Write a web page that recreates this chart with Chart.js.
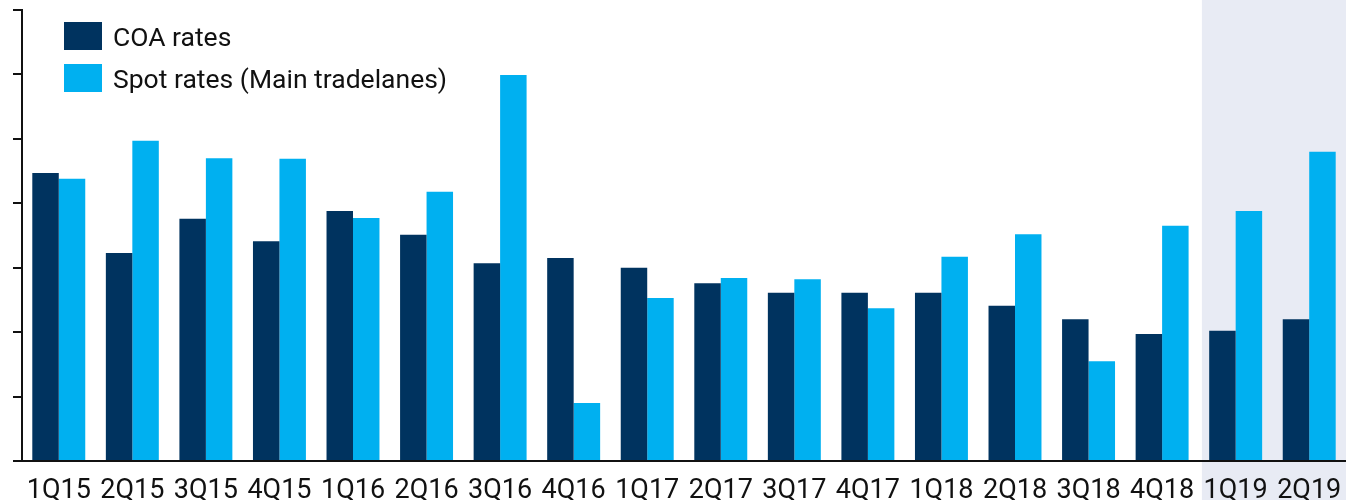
<!DOCTYPE html>
<html>
<head>
<meta charset="utf-8">
<script src="https://cdn.jsdelivr.net/npm/chart.js@4.4.1/dist/chart.umd.min.js"></script>
<style>
  html, body { margin: 0; padding: 0; background: #fff; }
  #wrap { width: 1346px; height: 500px; position: relative; }
</style>
</head>
<body>
<div id="wrap"><canvas id="rates"></canvas></div>
<script>
const quarters = ["1Q15", "2Q15", "3Q15", "4Q15", "1Q16", "2Q16", "3Q16", "4Q16", "1Q17",
  "2Q17", "3Q17", "4Q17", "1Q18", "2Q18", "3Q18", "4Q18", "1Q19", "2Q19"];
const coaRates = [4.47, 3.23, 3.76, 3.41, 3.88, 3.51, 3.07, 3.15, 3.00,
  2.76, 2.61, 2.61, 2.61, 2.41, 2.20, 1.97, 2.02, 2.20];
const spotRates = [4.38, 4.97, 4.70, 4.69, 3.77, 4.18, 5.99, 0.90, 2.53,
  2.84, 2.82, 2.37, 3.17, 3.52, 1.55, 3.65, 3.88, 4.80];
const shadedFrom = "1Q19"; // forecast quarters get the grey band

// grey band behind the last quarters
const bandPlugin = {
  id: "band",
  beforeDraw(chart) {
    const { ctx, scales: { x } } = chart;
    const idx = quarters.indexOf(shadedFrom);
    const cw = (x.right - x.left) / quarters.length;
    const start = x.left + idx * cw + 3;
    ctx.save();
    ctx.fillStyle = "#e8ebf4";
    ctx.fillRect(start, 0, chart.width - start, chart.height);
    ctx.restore();
  }
};

// legend stacked top-left inside the plot
const legendPlugin = {
  id: "stackedLegend",
  afterDraw(chart) {
    const { ctx } = chart;
    ctx.save();
    ctx.font = "26.5px Roboto";
    ctx.textBaseline = "middle";
    chart.data.datasets.forEach((ds, i) => {
      const y = 22 + i * 42;
      ctx.fillStyle = ds.backgroundColor;
      ctx.fillRect(64, y, 38, 28);
      ctx.fillStyle = "#111";
      ctx.fillText(ds.label, 113, y + 17);
    });
    ctx.restore();
  }
};

new Chart(document.getElementById("rates"), {
  type: "bar",
  data: {
    labels: quarters,
    datasets: [
      { label: "COA rates", data: coaRates, backgroundColor: "#00335f" },
      { label: "Spot rates (Main tradelanes)", data: spotRates, backgroundColor: "#00b0f0" }
    ]
  },
  options: {
    responsive: true,
    maintainAspectRatio: false,
    animation: false,
    categoryPercentage: 0.72,
    barPercentage: 1.0,
    layout: { padding: { top: 10, right: 0, bottom: 0, left: 0 } },
    plugins: { legend: { display: false }, tooltip: { enabled: false } },
    scales: {
      x: {
        afterFit(scale) {
          scale.height = 39;
          scale.paddingLeft = 0;
          scale.paddingRight = 0;
        },
        grid: { display: false, drawTicks: false },
        border: { display: true, color: "#111", width: 2 },
        ticks: { color: "#111", font: { family: "Roboto", size: 27 }, padding: 14, maxRotation: 0, autoSkip: false }
      },
      y: {
        min: 0,
        max: 7,
        afterFit(scale) { scale.width = 22; },
        ticks: { display: false, stepSize: 1 },
        grid: { drawOnChartArea: false, drawTicks: true, tickLength: 9, color: "#111", lineWidth: 2 },
        border: { display: true, color: "#111", width: 2 }
      }
    }
  },
  plugins: [bandPlugin, legendPlugin]
});
</script>
</body>
</html>
